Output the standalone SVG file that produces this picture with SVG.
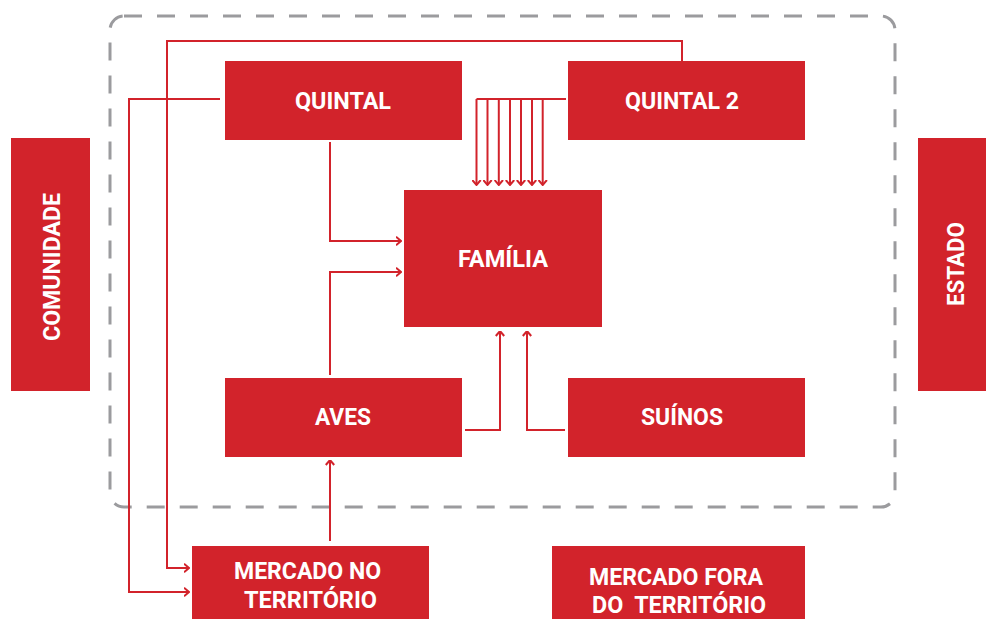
<svg xmlns="http://www.w3.org/2000/svg" width="986" height="619" viewBox="0 0 986 619">
<defs>
<style>
.box{fill:#d2232b}
.lbl{font-family:Roboto,"Liberation Sans",sans-serif;font-weight:bold;font-size:24px;fill:#fff;text-anchor:middle;white-space:pre}
.c{fill:none;stroke:#d2232b;stroke-width:2}
.border{fill:none;stroke:#9b9b9e;stroke-width:3;stroke-dasharray:18 15}
</style>
<marker id="ah" viewBox="0 0 6 10" markerWidth="6" markerHeight="10" refX="5.5" refY="5" orient="auto" markerUnits="userSpaceOnUse">
<path d="M0.5,0.8 L5.5,5 L0.5,9.2" fill="none" stroke="#d2232b" stroke-width="2"/>
</marker>
</defs>
<rect width="986" height="619" fill="#fff"/>
<rect class="border" x="110" y="16" width="785" height="491" rx="14"/>
<g id="connectors">
<path class="c" d="M682,61 V41 H167 V568 H189" marker-end="url(#ah)"/>
<path class="c" d="M220,99 H129 V592 H189" marker-end="url(#ah)"/>
<path class="c" d="M330,142 V241 H401" marker-end="url(#ah)"/>
<path class="c" d="M330,375 V272 H401" marker-end="url(#ah)"/>
<path class="c" d="M330,541 V460" marker-end="url(#ah)"/>
<path class="c" d="M465,430 H500 V331" marker-end="url(#ah)"/>
<path class="c" d="M565,430 H527 V331" marker-end="url(#ah)"/>
<path class="c" d="M566,99 H476.5"/>
<path class="c" d="M476.5,99 V185" marker-end="url(#ah)"/>
<path class="c" d="M487.5,99 V185" marker-end="url(#ah)"/>
<path class="c" d="M498.8,99 V185" marker-end="url(#ah)"/>
<path class="c" d="M510,99 V185" marker-end="url(#ah)"/>
<path class="c" d="M521,99 V185" marker-end="url(#ah)"/>
<path class="c" d="M532,99 V185" marker-end="url(#ah)"/>
<path class="c" d="M542.7,99 V185" marker-end="url(#ah)"/>
</g>
<g id="quintal"><rect class="box" x="225" y="61" width="237" height="79"/><text class="lbl" x="343" y="109" textLength="96" lengthAdjust="spacingAndGlyphs">QUINTAL</text></g>
<g id="quintal2"><rect class="box" x="568" y="61" width="237" height="79"/><text class="lbl" x="682" y="109" textLength="114" lengthAdjust="spacingAndGlyphs">QUINTAL 2</text></g>
<g id="familia"><rect class="box" x="404" y="190" width="198" height="137"/><text class="lbl" x="503" y="267" textLength="90" lengthAdjust="spacingAndGlyphs">FAMÍLIA</text></g>
<g id="aves"><rect class="box" x="225" y="378" width="237" height="79"/><text class="lbl" x="343" y="425" textLength="56" lengthAdjust="spacingAndGlyphs">AVES</text></g>
<g id="suinos"><rect class="box" x="568" y="378" width="237" height="79"/><text class="lbl" x="682" y="425" textLength="82" lengthAdjust="spacingAndGlyphs">SUÍNOS</text></g>
<g id="mercado-no"><rect class="box" x="192" y="546" width="237" height="80"/><text class="lbl" x="307.5" y="579" textLength="147" lengthAdjust="spacingAndGlyphs">MERCADO NO</text><text class="lbl" x="310.5" y="608" textLength="133" lengthAdjust="spacingAndGlyphs">TERRITÓRIO</text></g>
<g id="mercado-fora"><rect class="box" x="552" y="546" width="253" height="80"/><text class="lbl" x="676" y="585" textLength="174" lengthAdjust="spacingAndGlyphs">MERCADO FORA</text><text class="lbl" x="679" y="613" textLength="174" lengthAdjust="spacingAndGlyphs">DO  TERRITÓRIO</text></g>
<g id="comunidade"><rect class="box" x="11" y="138" width="79" height="253"/><text class="lbl" transform="translate(59.5,267) rotate(-90)" x="0" y="0" textLength="148" lengthAdjust="spacingAndGlyphs">COMUNIDADE</text></g>
<g id="estado"><rect class="box" x="918" y="138" width="68" height="253"/><text class="lbl" transform="translate(964,264) rotate(-90)" x="0" y="0" textLength="84" lengthAdjust="spacingAndGlyphs">ESTADO</text></g>
</svg>
